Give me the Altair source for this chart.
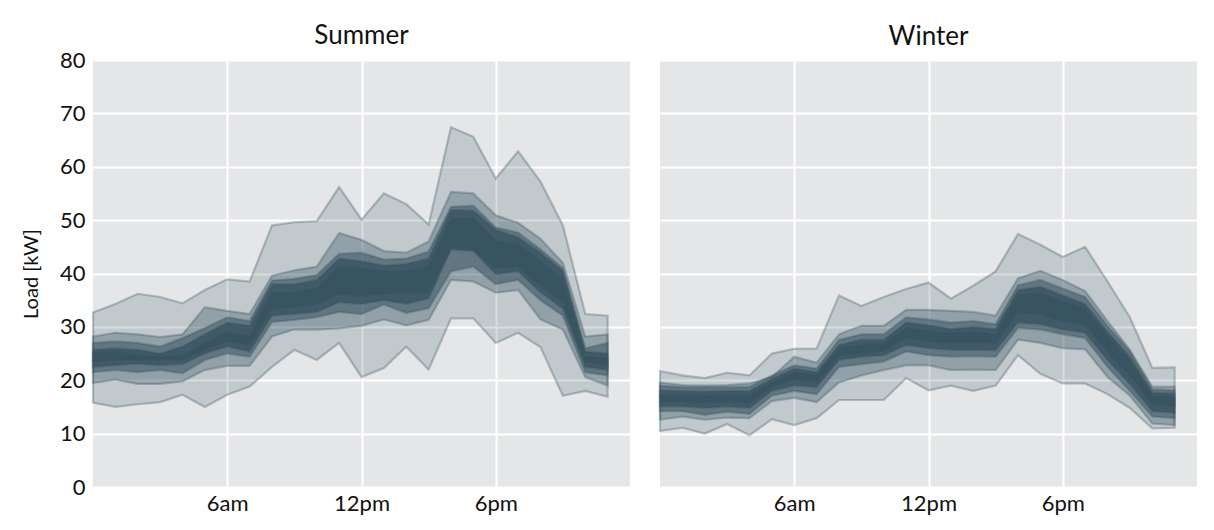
import altair as alt
import pandas as pd

hours = list(range(24))
tick_vals = [6, 12, 18]
tick_labels = ["6am", "12pm", "6pm"]
seasons = ["Summer", "Winter"]
y_ticks = [0, 10, 20, 30, 40, 50, 60, 70, 80]

# Summer quantiles (kW)
s_q0 = [15.8, 15.0, 15.5, 15.9, 17.3, 15.0, 17.3, 18.8, 22.5, 25.7, 23.8, 27.0, 20.6, 22.3, 26.3, 22.0, 31.6, 31.6, 27.0, 28.9, 26.2, 17.1, 18.0, 16.9]
s_q10 = [19.5, 20.1, 19.3, 19.3, 19.8, 21.9, 22.7, 22.7, 28.2, 29.5, 29.5, 29.7, 30.2, 31.4, 30.3, 31.3, 38.8, 38.5, 36.4, 36.9, 31.4, 29.5, 20.6, 19.0]
s_q20 = [21.5, 21.9, 21.5, 21.9, 21.3, 23.8, 25.0, 24.4, 30.9, 31.3, 31.8, 32.8, 32.4, 34.2, 32.6, 33.5, 40.4, 41.3, 38.0, 38.8, 35.0, 32.1, 21.5, 20.9]
s_q30 = [22.5, 22.8, 23.1, 22.8, 23.0, 25.0, 26.3, 25.4, 32.1, 32.4, 32.8, 34.6, 34.3, 35.0, 34.3, 35.3, 44.5, 44.2, 39.9, 40.4, 36.5, 33.4, 22.5, 21.9]
s_q40 = [23.5, 23.8, 23.8, 23.8, 23.8, 25.7, 27.3, 26.6, 33.4, 33.7, 34.3, 36.2, 35.9, 36.2, 36.4, 36.5, 44.9, 44.5, 41.0, 41.3, 37.8, 34.6, 23.5, 22.8]
s_q60 = [25.0, 25.4, 24.7, 24.4, 24.7, 27.0, 28.9, 28.2, 36.5, 36.5, 37.2, 41.3, 41.0, 40.4, 40.4, 41.3, 50.3, 50.3, 46.0, 45.5, 42.3, 38.8, 24.4, 24.1]
s_q70 = [25.7, 26.0, 25.7, 25.0, 26.3, 28.6, 30.8, 30.2, 38.0, 38.0, 38.8, 42.8, 42.3, 41.5, 41.8, 42.8, 51.9, 51.8, 48.2, 46.8, 43.9, 40.4, 25.4, 25.0]
s_q80 = [27.0, 27.3, 27.0, 26.3, 27.9, 29.8, 31.8, 31.1, 38.7, 39.0, 39.7, 43.7, 43.9, 42.6, 42.8, 44.1, 52.5, 52.7, 48.6, 47.7, 44.5, 41.0, 26.0, 27.0]
s_q90 = [28.2, 28.9, 28.6, 28.1, 28.6, 33.7, 33.0, 32.4, 39.6, 40.6, 41.3, 47.6, 46.3, 44.2, 43.9, 46.0, 55.3, 55.0, 50.9, 49.5, 46.5, 42.0, 28.2, 28.6]
s_q100 = [32.7, 34.3, 36.2, 35.6, 34.4, 36.9, 38.9, 38.5, 49.0, 49.6, 49.8, 56.2, 50.1, 55.0, 53.0, 49.2, 67.4, 65.6, 57.8, 62.9, 57.2, 49.0, 32.4, 32.1]

# Winter quantiles (kW)
w_q0 = [10.5, 11.1, 10.0, 11.8, 9.7, 12.7, 11.6, 12.9, 16.3, 16.3, 16.3, 20.4, 18.1, 19.0, 18.0, 19.0, 24.7, 21.2, 19.4, 19.4, 17.4, 14.8, 11.0, 11.1]
w_q10 = [12.6, 13.2, 12.6, 13.0, 12.9, 16.1, 16.7, 15.9, 19.6, 20.9, 21.9, 22.8, 22.8, 21.9, 22.0, 21.9, 27.6, 27.0, 26.0, 25.8, 20.6, 17.1, 11.9, 11.6]
w_q20 = [14.2, 14.2, 13.5, 14.1, 13.7, 17.1, 18.0, 17.4, 22.5, 23.0, 23.5, 25.4, 24.7, 24.4, 24.5, 24.4, 29.8, 29.5, 28.6, 27.9, 22.5, 18.0, 13.2, 12.9]
w_q30 = [15.1, 15.1, 14.8, 15.1, 14.8, 18.0, 19.0, 18.7, 23.8, 24.4, 24.7, 26.6, 26.0, 25.7, 25.7, 25.6, 30.8, 30.5, 29.5, 28.9, 23.8, 19.3, 14.2, 13.9]
w_q40 = [16.1, 16.0, 15.8, 16.0, 15.8, 18.7, 20.3, 19.6, 24.7, 25.1, 25.6, 27.9, 27.3, 27.0, 27.1, 27.0, 32.7, 32.4, 31.1, 30.5, 25.4, 20.9, 15.5, 15.1]
w_q60 = [17.3, 17.2, 17.1, 17.2, 17.2, 19.6, 21.5, 20.9, 26.0, 26.6, 26.8, 29.8, 29.2, 28.8, 29.0, 28.6, 35.9, 36.2, 34.8, 33.4, 28.2, 23.5, 17.1, 16.7]
w_q70 = [18.1, 18.0, 17.9, 18.0, 18.0, 20.3, 22.2, 21.5, 26.6, 27.6, 27.6, 30.8, 30.3, 29.6, 30.0, 29.6, 36.9, 37.5, 35.9, 34.3, 29.1, 24.4, 17.7, 17.5]
w_q80 = [19.0, 18.7, 18.7, 18.7, 18.8, 20.9, 22.8, 22.2, 27.6, 28.6, 28.6, 31.8, 31.4, 30.8, 31.1, 30.5, 37.8, 38.8, 37.2, 35.6, 30.2, 25.4, 18.3, 18.1]
w_q90 = [19.6, 19.1, 19.0, 19.1, 19.4, 20.6, 24.4, 23.3, 28.6, 30.2, 30.2, 33.2, 33.2, 33.0, 32.8, 32.1, 39.1, 40.5, 38.8, 36.7, 31.1, 25.7, 18.8, 18.8]
w_q100 = [21.7, 20.9, 20.4, 21.4, 20.9, 25.0, 25.9, 25.9, 35.9, 33.9, 35.6, 37.1, 38.3, 35.3, 37.7, 40.4, 47.4, 45.4, 43.1, 45.0, 38.5, 31.8, 22.3, 22.4]

bands = {
    "Summer": [(s_q0, s_q100), (s_q10, s_q90), (s_q20, s_q80), (s_q30, s_q70), (s_q40, s_q60)],
    "Winter": [(w_q0, w_q100), (w_q10, w_q90), (w_q20, w_q80), (w_q30, w_q70), (w_q40, w_q60)],
}
band_opacity = [0.2, 0.35, 0.55, 0.8, 0.95]

COLOR = "#385461"
FONT = "Lato"


def panel(season, show_y):
    rows = []
    for b, (lo, hi) in enumerate(bands[season]):
        for h, l, u in zip(hours, lo, hi):
            rows.append({"hour": h, "lo": l, "hi": u, "band": b})
    df = pd.DataFrame(rows)
    expr = " : ".join(
        f"datum.value == {v} ? '{t}'" for v, t in zip(tick_vals, tick_labels)
    ) + " : ''"
    x = alt.X(
        "hour:Q",
        scale=alt.Scale(domain=[0, 24], nice=False, zero=False),
        axis=alt.Axis(values=tick_vals, labelExpr=expr, title=None, labelPadding=6),
    )
    if show_y:
        yaxis = alt.Axis(values=y_ticks, title="Load [kW]", titlePadding=18, labelPadding=8)
    else:
        yaxis = alt.Axis(values=y_ticks, title=None, labels=False)
    y = alt.Y("lo:Q", scale=alt.Scale(domain=[0, 80], nice=False), axis=yaxis)
    base = alt.Chart(df)
    layers = []
    for b, op in enumerate(band_opacity):
        layers.append(
            base.transform_filter(alt.datum.band == b)
            .mark_area(color=COLOR, fillOpacity=op, stroke=COLOR,
                       strokeWidth=2.2, strokeOpacity=0.32)
            .encode(x=x, y=y, y2="hi:Q")
        )
    return alt.layer(*layers).properties(
        width=537,
        height=427,
        title=alt.TitleParams(season, fontSize=26, font=FONT, fontWeight="normal",
                              color="#111111", offset=10, dy=(10 if show_y else 0)),
    )


chart = alt.hconcat(panel("Summer", True), panel("Winter", False), spacing=25).properties(
    padding={"left": 21, "top": 23, "right": 14, "bottom": 4},
    background="white",
).configure_view(
    fill="#e5e6e8", stroke=None
).configure_axis(
    grid=True, gridColor="white", gridWidth=2, domain=False, ticks=False,
    labelFont=FONT, labelFontSize=22, labelColor="#111111",
    titleFont=FONT, titleFontSize=20, titleFontWeight="normal", titleColor="#111111",
)

chart.save("out.html", embed_options={"renderer": "svg", "actions": False})
